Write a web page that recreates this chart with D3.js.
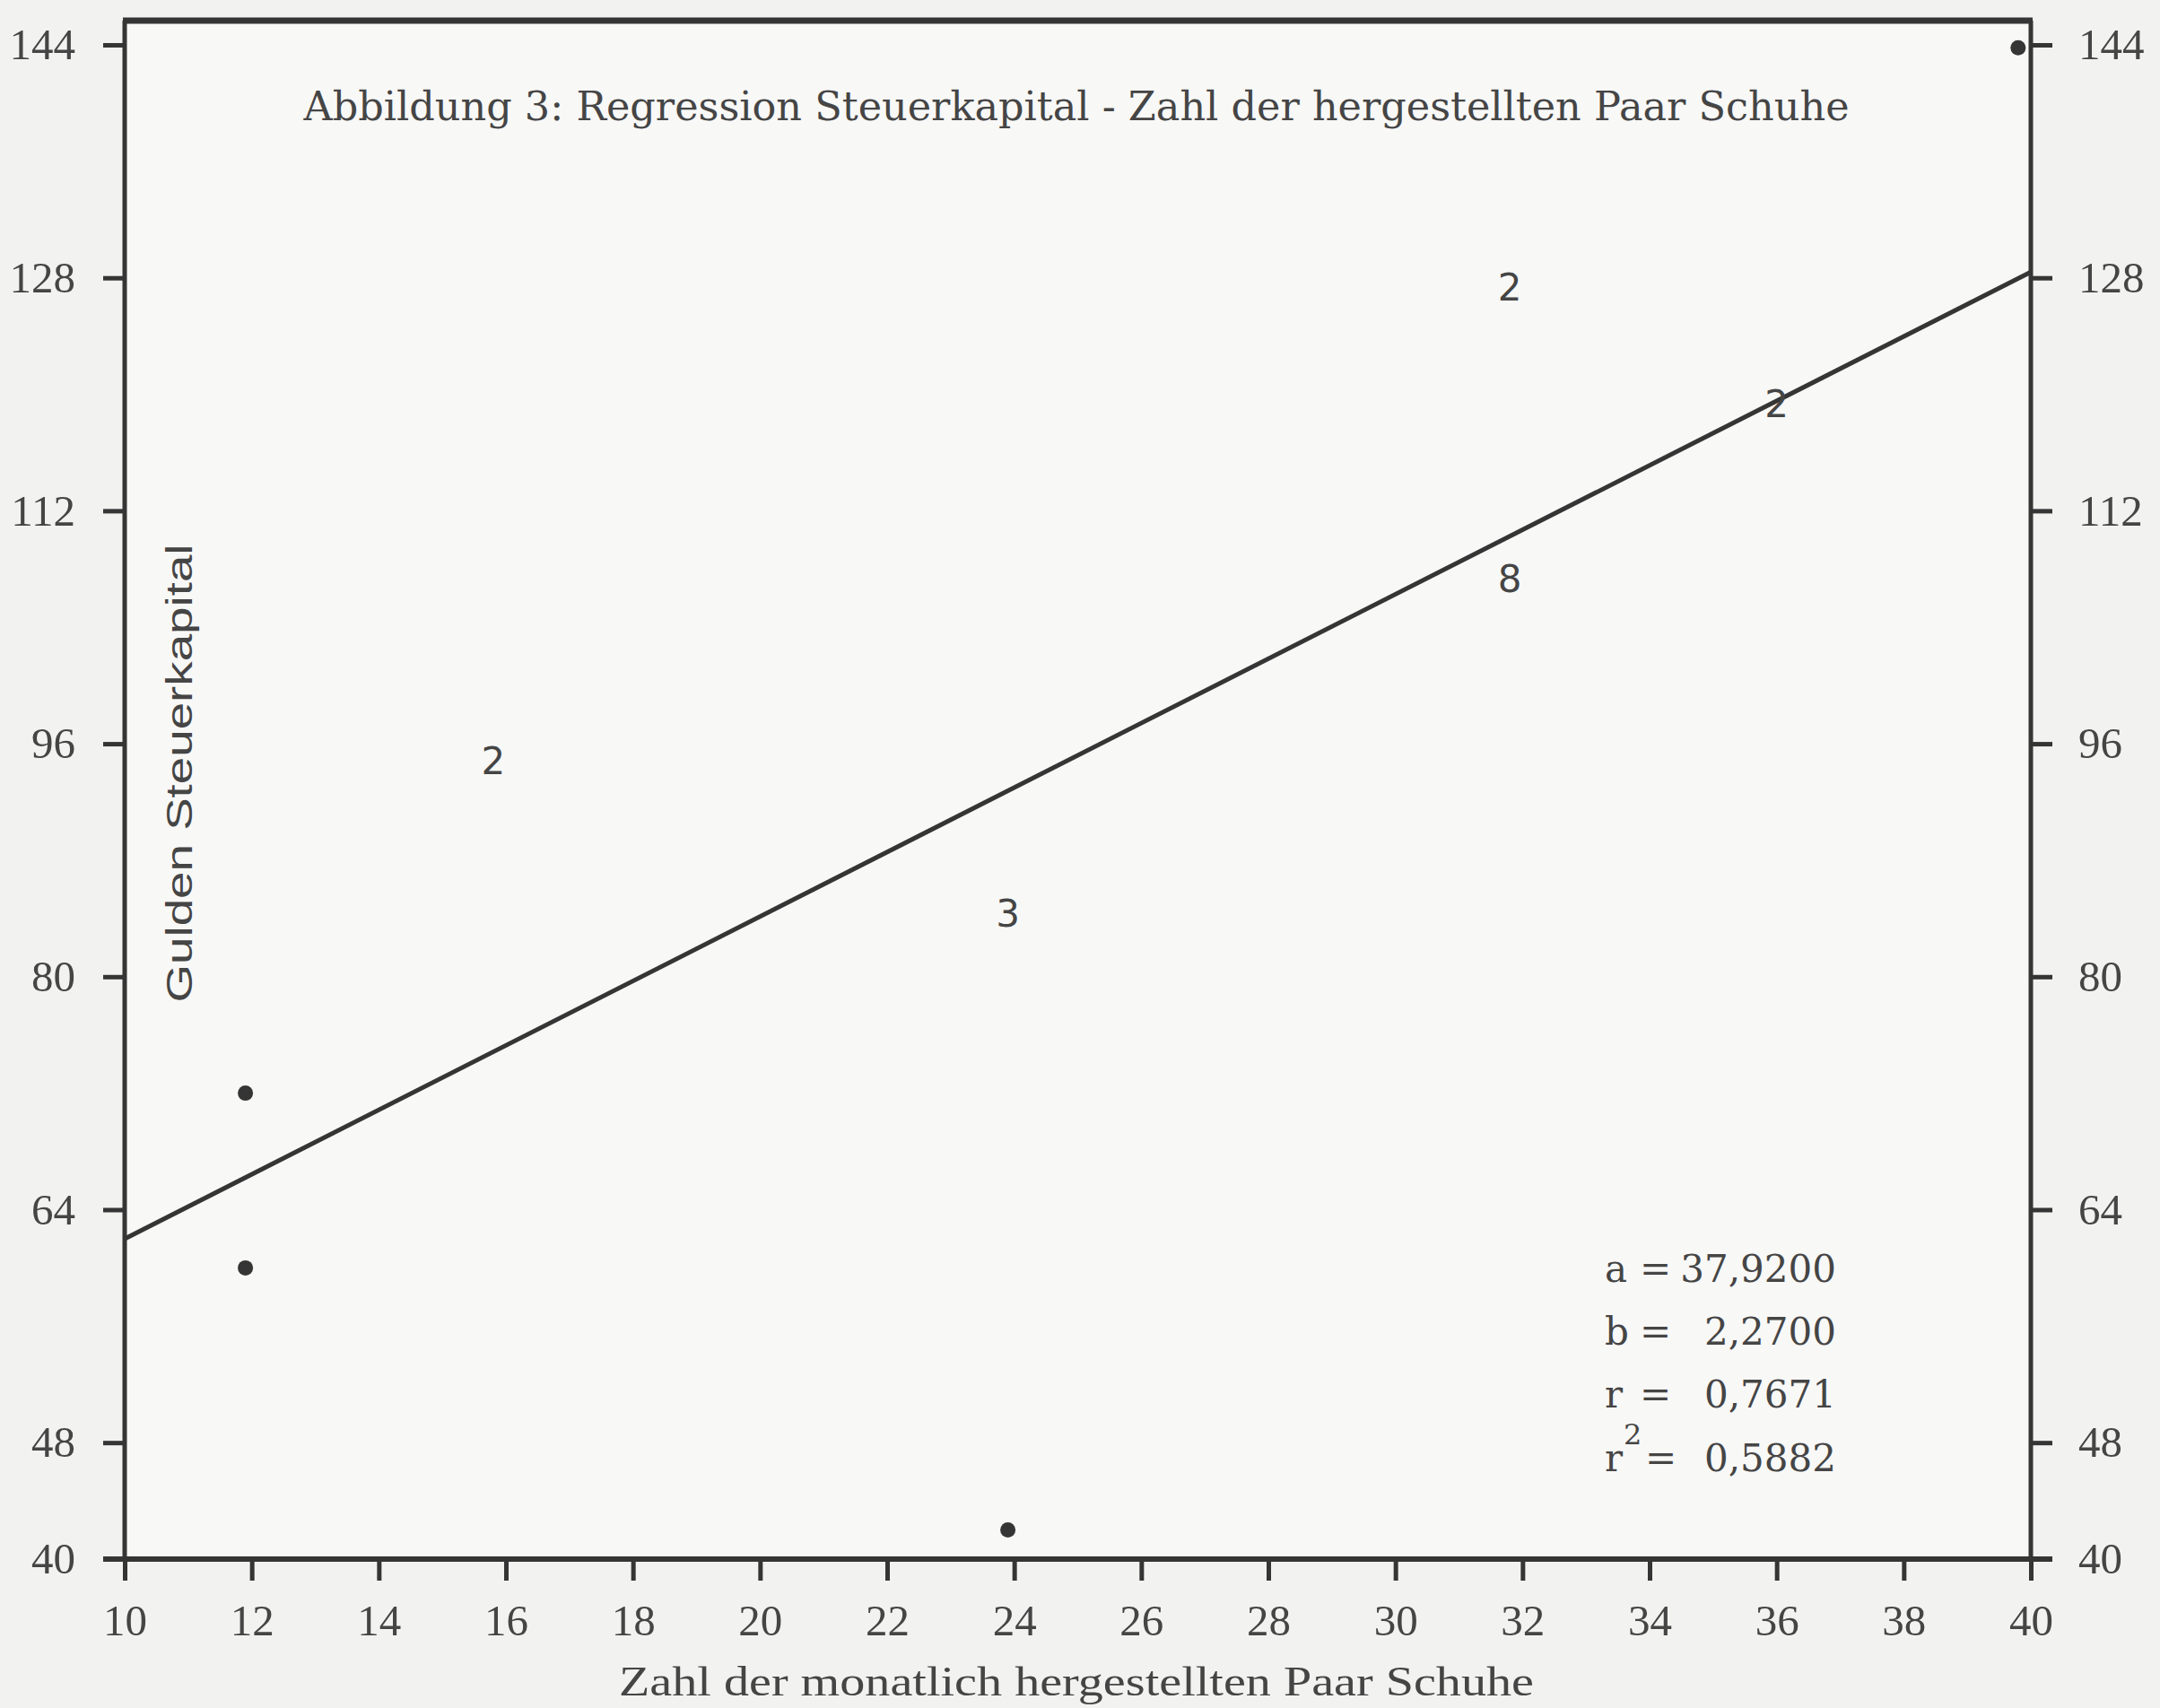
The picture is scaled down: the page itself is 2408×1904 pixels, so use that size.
<!DOCTYPE html>
<html>
<head>
<meta charset="utf-8">
<script src="https://cdn.jsdelivr.net/npm/d3@7"></script>
<style>
  html, body { margin: 0; padding: 0; background: #f3f3f2; }
  svg { display: block; }
</style>
</head>
<body>
<div class="vis-regression"></div>
<script>
// axis ticks
const xTicks = [10, 12, 14, 16, 18, 20, 22, 24, 26, 28, 30, 32, 34, 36, 38, 40];
const yTicks = [40, 48, 64, 80, 96, 112, 128, 144];

// single observations (dots)
const dotX = [11.9, 11.9, 23.9, 39.8];
const dotY = [72, 60, 42, 143.8];

// stacked observations, drawn as their count
const countX = [15.8, 23.9, 31.8, 31.8, 36];
const countY = [95.5, 85, 108, 128, 120];
const countN = [2, 3, 8, 2, 2];

// regression line as printed
const regX = [10, 40];
const regY = [62, 128.4];

// coefficients box
const statNames = ['a', 'b', 'r', 'r'];
const statSup = ['', '', '', '2'];
const statValues = ['37,9200', '2,2700', '0,7671', '0,5882'];

const title = 'Abbildung 3: Regression Steuerkapital - Zahl der hergestellten Paar Schuhe';
const xTitle = 'Zahl der monatlich hergestellten Paar Schuhe';
const yTitle = 'Gulden  Steuerkapital';

const W = 2408, H = 1904;
const ink = '#353535';
const textInk = '#454545';

const svg = d3.select('.vis-regression')
    .append('svg')
    .attr('width', W)
    .attr('height', H);

svg.append('rect').attr('width', W).attr('height', H).attr('fill', '#f2f2f1');

const x = d3.scaleLinear().domain([10, 40]).range([139, 2264]);
const y = d3.scaleLinear().domain([40, 144]).range([1738, 50]);
const frameTop = 23;

// plot paper
svg.append('rect')
    .attr('x', x(10)).attr('y', frameTop)
    .attr('width', x(40) - x(10)).attr('height', y(40) - frameTop)
    .attr('fill', '#f8f8f7');

// frame
const frame = svg.append('g').attr('stroke', ink).attr('fill', 'none');
frame.append('line')
    .attr('x1', x(10) - 2).attr('x2', x(40) + 2)
    .attr('y1', frameTop).attr('y2', frameTop)
    .attr('stroke-width', 7);
frame.append('line')
    .attr('x1', x(10)).attr('x2', x(10))
    .attr('y1', frameTop).attr('y2', y(40))
    .attr('stroke-width', 5);
frame.append('line')
    .attr('x1', x(40)).attr('x2', x(40))
    .attr('y1', frameTop).attr('y2', y(40))
    .attr('stroke-width', 5);

const tickFont = (g) => {
    g.select('.domain').remove();
    g.selectAll('.tick line').attr('stroke', ink).attr('stroke-width', 5);
    g.selectAll('.tick text')
        .attr('fill', textInk)
        .style('font-family', '"Liberation Serif", serif')
        .style('font-size', '49px');
};

// left axis
svg.append('g')
    .attr('transform', 'translate(' + x(10) + ',0)')
    .call(d3.axisLeft(y).tickValues(yTicks).tickSize(24).tickPadding(31).tickSizeOuter(0))
    .call(tickFont);

// right axis
svg.append('g')
    .attr('transform', 'translate(' + x(40) + ',0)')
    .call(d3.axisRight(y).tickValues(yTicks).tickSize(24).tickPadding(29).tickSizeOuter(0))
    .call(tickFont);

// bottom axis
const xAxis = svg.append('g')
    .attr('transform', 'translate(0,' + y(40) + ')')
    .call(d3.axisBottom(x).tickValues(xTicks).tickSize(24).tickPadding(26).tickSizeOuter(0))
    .call(tickFont);
xAxis.append('line')
    .attr('x1', x(10) - 24).attr('x2', x(40) + 24)
    .attr('stroke', ink).attr('stroke-width', 6);

// regression line
svg.append('path')
    .datum(d3.zip(regX, regY))
    .attr('fill', 'none')
    .attr('stroke', ink)
    .attr('stroke-width', 5)
    .attr('d', d3.line().x(d => x(d[0])).y(d => y(d[1])));

// dots
svg.append('g')
    .selectAll('circle')
    .data(d3.zip(dotX, dotY))
    .join('circle')
    .attr('cx', d => x(d[0]))
    .attr('cy', d => y(d[1]))
    .attr('r', 8.5)
    .attr('fill', ink);

// counts
svg.append('g')
    .selectAll('text')
    .data(d3.zip(countX, countY, countN))
    .join('text')
    .attr('x', d => x(d[0]))
    .attr('y', d => y(d[1]) + 11)
    .attr('text-anchor', 'middle')
    .attr('dominant-baseline', 'central')
    .attr('fill', textInk)
    .style('font-family', '"DejaVu Sans", sans-serif')
    .style('font-size', '42px')
    .text(d => d[2]);

// title
svg.append('text')
    .attr('x', 1200).attr('y', 118)
    .attr('text-anchor', 'middle')
    .attr('dominant-baseline', 'central')
    .attr('textLength', 1723)
    .attr('lengthAdjust', 'spacingAndGlyphs')
    .attr('fill', textInk)
    .style('font-family', '"DejaVu Serif", serif')
    .style('font-size', '44px')
    .text(title);

// x title
svg.append('text')
    .attr('x', 1200).attr('y', 1874)
    .attr('text-anchor', 'middle')
    .attr('dominant-baseline', 'central')
    .attr('textLength', 1020)
    .attr('lengthAdjust', 'spacingAndGlyphs')
    .attr('fill', textInk)
    .style('font-family', '"Liberation Serif", serif')
    .style('font-size', '46px')
    .text(xTitle);

// y title
svg.append('text')
    .attr('transform', 'translate(200,862) rotate(-90)')
    .attr('text-anchor', 'middle')
    .attr('dominant-baseline', 'central')
    .attr('textLength', 511)
    .attr('lengthAdjust', 'spacingAndGlyphs')
    .attr('fill', textInk)
    .style('font-family', '"Liberation Sans", sans-serif')
    .style('font-size', '41px')
    .text(yTitle);

// coefficient box
const rowY = d3.scalePoint().domain(d3.range(statNames.length)).range([1414, 1625]);
const stats = svg.append('g')
    .attr('fill', textInk)
    .style('font-family', '"DejaVu Serif", serif')
    .style('font-size', '42px');
statNames.forEach((name, i) => {
    stats.append('text')
        .attr('x', 1789).attr('y', rowY(i))
        .attr('dominant-baseline', 'central')
        .text(name);
    if (statSup[i]) {
        stats.append('text')
            .attr('x', 1810).attr('y', rowY(i) - 26)
            .attr('dominant-baseline', 'central')
            .style('font-size', '32px')
            .text(statSup[i]);
    }
    stats.append('text')
        .attr('x', statSup[i] ? 1834 : 1828).attr('y', rowY(i))
        .attr('dominant-baseline', 'central')
        .text('=');
    stats.append('text')
        .attr('x', 2047).attr('y', rowY(i))
        .attr('text-anchor', 'end')
        .attr('dominant-baseline', 'central')
        .text(statValues[i]);
});
</script>
</body>
</html>
